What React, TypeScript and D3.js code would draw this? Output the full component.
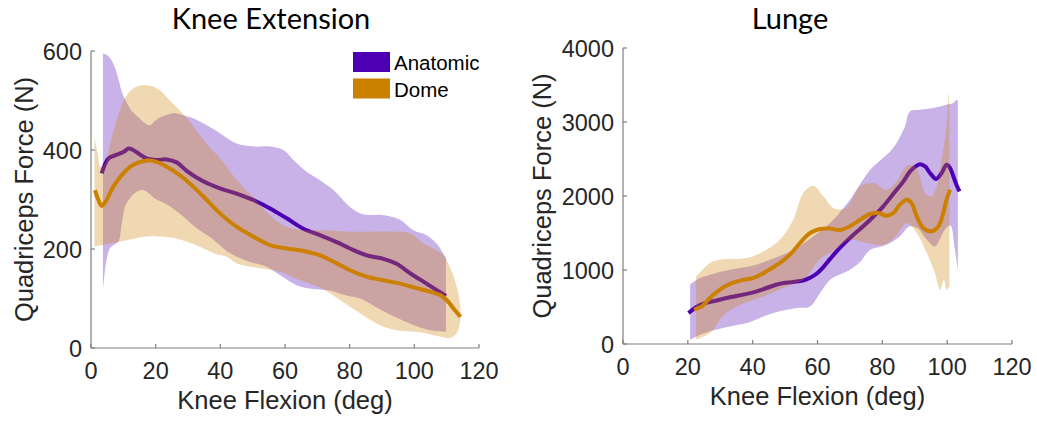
import React from 'react';
import * as d3 from 'd3';

type P = [number, number];

// ---------- shared ----------
const xTicks = [0, 20, 40, 60, 80, 100, 120];
const seriesNames = ['Anatomic', 'Dome'];
const seriesColors = ['#4d00b3', '#cc8000'];

// ---------- Knee Extension ----------
const keYTicks = [0, 200, 400, 600];
const keAnatMean: P[] = [[3.3,353],[5.4,383],[7.4,389],[10,396],[11.8,403],[14,396],[17.2,383],[20.3,380],[23.4,381],[26.5,375],[29.6,358],[34.4,338],[40.1,322],[45,312],[50.2,299],[55.4,282],[60.5,262],[65.7,241],[70.8,228],[76,214],[80.1,201],[85.3,187],[90.4,180],[94.5,170],[98.7,151],[103.8,130],[109.8,105]];
const keAnatUpper: P[] = [[3.7,595],[5,592],[6.3,582],[7.5,565],[8.4,545],[9.9,511],[10.9,498],[12.5,480],[14.5,467],[16.5,455],[18.1,450],[20,460],[21.8,467],[25.9,474],[29,469],[31.6,464],[35.8,450],[39.9,434],[45,413],[50.2,407],[55.4,407],[59.5,400],[62.6,380],[66.7,356],[70.8,339],[75,319],[80.1,285],[84.2,270],[89.4,269],[93,265],[95.6,259],[99.7,238],[103.8,228],[106.9,211],[109.8,181]];
const keAnatLower: P[] = [[3.7,117],[4.2,150],[4.7,174],[5.8,201],[7,208],[8.5,215],[9.5,250],[10.5,285],[12,302],[14,315],[16.1,319],[18,312],[19.7,302],[23.8,289],[27.9,269],[32.1,245],[37.2,222],[42.4,194],[48.2,176],[54.3,164],[58.5,147],[63.6,127],[68.7,119],[72.9,117],[76,112],[79,106],[83.2,100],[89.4,78],[95.6,58],[100.7,44],[104.9,36],[109.8,33]];
const keDomeMean: P[] = [[1.2,319],[2.3,299],[3.3,287],[4.8,299],[6.9,326],[10,353],[13.1,370],[17.4,379],[20.3,376],[23.4,366],[27.5,349],[31.6,326],[35.8,299],[39.9,272],[45,245],[50.2,225],[55.4,208],[60.5,201],[65.7,196],[70.8,187],[76,171],[80.1,157],[85.3,144],[90.4,137],[95.6,130],[100.7,121],[104.8,114],[108,107],[110,97],[112.1,80],[114.3,63]];
const keDomeUpper: P[] = [[1.1,427],[2,395],[3,365],[4.5,375],[6,415],[8,462],[10,498],[12,518],[14,528],[16.5,531],[19,529],[21,522],[22.8,511],[24.4,500],[26.9,484],[29,469],[32,445],[36,410],[40,383],[44,348],[48,318],[50.2,305],[54.3,274],[58.4,252],[62,242],[66,238],[72,238],[80,235],[86,235],[93.5,235],[98.7,232],[102.8,211],[105.9,201],[109,188],[109.8,180],[111.6,154],[113.1,124],[114.1,90],[114.4,70]];
const keDomeLower: P[] = [[1.1,205],[5,210],[9.4,215],[12,219],[16.6,225],[20,226],[24.8,223],[28,218],[33.1,206],[37.8,192],[42.4,183],[45,171],[52.3,161],[58.5,154],[64.6,137],[70.8,122],[77,97],[83.2,70],[89.4,46],[94.5,36],[101.8,32],[108,23],[111,20],[113.1,30],[114.1,50],[114.4,70]];

// ---------- Lunge ----------
const luYTicks = [0, 1000, 2000, 3000, 4000];
const luAnatMean: P[] = [[20.2,419],[22.2,486],[24.8,545],[27.9,577],[32,622],[36.1,658],[40.2,698],[44.3,757],[48.4,815],[52.5,838],[55.6,858],[57.7,895],[59.7,950],[61.8,1040],[63.9,1150],[65.9,1251],[68.5,1370],[71.1,1477],[74.1,1590],[77.2,1720],[80.3,1860],[83.4,2030],[86.5,2197],[88.5,2330],[90.6,2410],[91.6,2430],[93.2,2401],[94.7,2311],[96.6,2230],[98.3,2311],[99.8,2423],[100.9,2378],[101.9,2266],[102.9,2150],[103.8,2063]];
const luAnatUpper: P[] = [[20.7,800],[22.7,869],[26.8,936],[33,1004],[39.2,1049],[45.3,1139],[51.5,1251],[58.7,1454],[63.9,1635],[68,1838],[70,1950],[73,2150],[76.2,2350],[79.3,2480],[82.4,2600],[84.4,2716],[87,2941],[88.5,3143],[91.6,3166],[95.7,3189],[99.8,3234],[101.9,3257],[102.9,3301],[103.3,3280]];
const luAnatLower: P[] = [[20.7,58],[22.7,103],[26.8,171],[33,238],[38.2,283],[43.3,373],[48.4,441],[53.6,486],[57.7,508],[60.8,689],[63.9,869],[68,959],[70,1004],[73,1100],[76.2,1270],[81.3,1342],[85.4,1454],[88.5,1590],[91,1560],[93.5,1420],[96.2,1319],[97.8,1420],[99.5,1560],[101,1600],[102.3,1300],[103.3,1000]];
const luDomeMean: P[] = [[21.9,464],[24.3,509],[26.8,622],[29.9,734],[32.5,802],[36.1,856],[40.2,892],[44.3,982],[48.4,1095],[51.5,1207],[54.6,1365],[57.7,1500],[60.8,1555],[63.9,1560],[66.9,1540],[70,1590],[73.1,1680],[76.2,1757],[78.8,1770],[81.3,1734],[83.4,1770],[85.4,1883],[87.5,1950],[89,1905],[90.6,1725],[92.6,1568],[95.2,1523],[97.3,1590],[98.8,1770],[99.8,1950],[100.9,2086]];
const luDomeUpper: P[] = [[22.5,905],[26.8,1094],[29.9,1139],[38.2,1162],[43.3,1251],[48.4,1409],[52.5,1680],[55.6,2040],[58.7,2139],[61.8,1995],[64.9,1838],[68,1824],[70,1900],[73.1,2130],[77.2,2175],[81.3,2085],[84.4,2197],[87.5,2410],[90.1,2400],[91.6,2265],[93.2,2040],[95.2,1995],[96.8,2130],[98.3,2490],[99.8,2940],[100.5,3390],[100.7,3200]];
const luDomeLower: P[] = [[22.5,58],[26.8,148],[30.9,380],[36.1,530],[43.3,643],[50.5,778],[55.6,869],[60.8,1150],[64.9,1260],[66.9,1330],[69,1390],[71,1409],[75.1,1365],[80.3,1342],[84,1450],[87.5,1635],[90.6,1500],[93.7,1230],[96.2,959],[97.8,734],[99,869],[99.8,734],[100.7,780]];

const SANS = '"Liberation Sans", Arial, Helvetica, sans-serif';
const TITLE_FONT = 'Lato, "Open Sans", sans-serif';

interface PanelProps {
  left: number; right: number; top: number; bottom: number;
  yMax: number; yTicks: number[];
  title: string; titleX: number;
  yLabelX: number;
  bands: { upper: P[]; lower: P[]; mean: P[]; color: string }[];
  legend?: boolean;
}

function Panel(p: PanelProps) {
  const x = d3.scaleLinear().domain([0, 120]).range([p.left, p.right]);
  const y = d3.scaleLinear().domain([0, p.yMax]).range([p.bottom, p.top]);
  const line = d3.line<P>().x(d => x(d[0])).y(d => y(d[1])).curve(d3.curveCatmullRom.alpha(0.5));
  const bandPath = (u: P[], l: P[]) => {
    const a = line(u) as string;
    const b = line([...l].reverse()) as string;
    return a + 'L' + b.slice(1) + 'Z';
  };
  const axisColor = '#7f7f7f';
  const tickColor = '#262626';
  return (
    <g>
      {p.bands.map((b, i) => (
        <g key={i}>
          <path d={bandPath(b.upper, b.lower)} fill={b.color} fillOpacity={0.3} stroke="none" />
          <path d={line(b.mean) as string} fill="none" stroke={b.color} strokeWidth={4} strokeLinejoin="round" />
        </g>
      ))}
      {/* axes */}
      <line x1={p.left} x2={p.right} y1={p.bottom} y2={p.bottom} stroke={axisColor} strokeWidth={1.2} />
      <line x1={p.left} x2={p.left} y1={p.bottom} y2={p.top} stroke={axisColor} strokeWidth={1.2} />
      {xTicks.map(t => (
        <g key={'x' + t}>
          <line x1={x(t)} x2={x(t)} y1={p.bottom} y2={p.bottom - 4} stroke={axisColor} strokeWidth={1.2} />
          <text x={x(t)} y={p.bottom + 31} textAnchor="middle" fontFamily={SANS} fontSize={23.5} fill={tickColor}>{t}</text>
        </g>
      ))}
      {p.yTicks.map(t => (
        <g key={'y' + t}>
          <line x1={p.left} x2={p.left + 4} y1={y(t)} y2={y(t)} stroke={axisColor} strokeWidth={1.2} />
          <text x={p.left - 9} y={y(t) + 8.5} textAnchor="end" fontFamily={SANS} fontSize={23.5} fill={tickColor}>{t}</text>
        </g>
      ))}
      <text x={(p.left + p.right) / 2} y={p.bottom + 61} textAnchor="middle" fontFamily={SANS} fontSize={25.5} fill={tickColor}>Knee Flexion (deg)</text>
      <text transform={`translate(${p.yLabelX},${(p.top + p.bottom) / 2}) rotate(-90)`} textAnchor="middle" fontFamily={SANS} fontSize={25.5} fill={tickColor}>Quadriceps Force (N)</text>
      <text x={p.titleX} y={29} textAnchor="middle" fontFamily={TITLE_FONT} fontSize={29} fill="#000">{p.title}</text>
      {p.legend && seriesNames.map((n, i) => (
        <g key={n}>
          <rect x={353} y={52 + i * 26.5} width={37} height={20} fill={seriesColors[i]} />
          <text x={394} y={70 + i * 26.5} fontFamily={SANS} fontSize={20.5} fill="#000">{n}</text>
        </g>
      ))}
    </g>
  );
}

export default function App() {
  return (
    <svg width={1037} height={425} style={{ position: 'fixed', left: 0, top: 0, background: '#fff' }}>
      <rect width={1037} height={425} fill="#fff" />
      <Panel left={91} right={479} top={51} bottom={348} yMax={600} yTicks={keYTicks}
        title="Knee Extension" titleX={271} yLabelX={33} legend
        bands={[
          { upper: keAnatUpper, lower: keAnatLower, mean: keAnatMean, color: seriesColors[0] },
          { upper: keDomeUpper, lower: keDomeLower, mean: keDomeMean, color: seriesColors[1] },
        ]} />
      <Panel left={623} right={1012} top={48} bottom={344} yMax={4000} yTicks={luYTicks}
        title="Lunge" titleX={790} yLabelX={551}
        bands={[
          { upper: luAnatUpper, lower: luAnatLower, mean: luAnatMean, color: seriesColors[0] },
          { upper: luDomeUpper, lower: luDomeLower, mean: luDomeMean, color: seriesColors[1] },
        ]} />
    </svg>
  );
}
